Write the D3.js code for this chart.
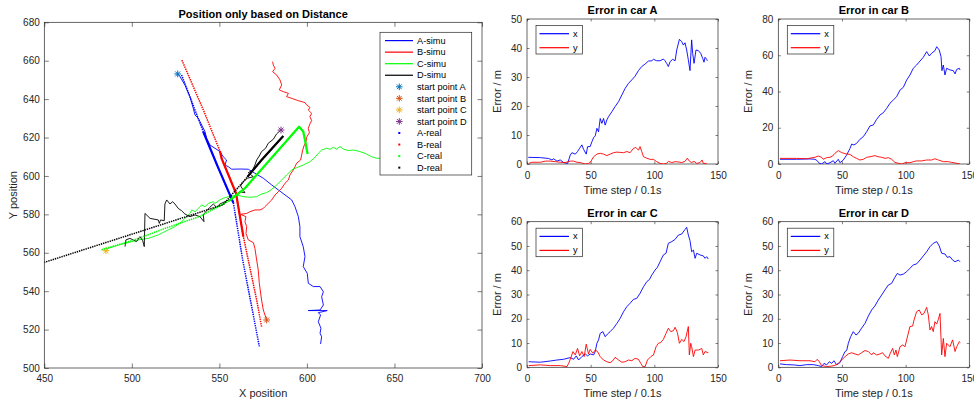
<!DOCTYPE html>
<html>
<head>
<meta charset="utf-8">
<script src="https://cdn.jsdelivr.net/npm/d3@7"></script>
<style>
  body { margin: 0; background: #fff; }
  svg { display: block; }
</style>
</head>
<body>
<svg id="chart" width="974" height="400"></svg>
<script>
// ---------- Trajectories (X position, Y position) ----------
const simuA = [[526.0,653.4],[527.5,651.7],[530.3,647.4],[533.2,641.3],[535.1,635.2],[536.1,631.7],[538.0,630.0],[539.9,626.5],[541.8,623.1],[542.7,619.6],[544.6,616.1],[547.5,614.4],[550.3,612.7],[552.2,610.0],[554.1,608.3],[553.2,605.7],[555.1,604.8],[557.0,603.5],[561.8,603.6],[566.5,603.5],[570.3,601.4],[575.1,598.8],[579.9,595.3],[583.7,592.7],[587.5,590.1],[591.3,587.5],[593.2,584.0],[595.1,578.8],[596.0,573.6],[596.0,568.4],[597.9,563.2],[598.9,558.0],[597.9,552.8],[600.2,549.3],[600.8,544.1],[603.7,542.4],[607.5,542.4],[609.4,539.7],[608.4,537.1],[609.4,532.8],[607.5,530.2],[600.8,529.9],[611.6,529.9],[606.5,528.8],[607.8,527.6],[606.5,524.1],[608.0,520.7],[607.5,518.1],[608.4,516.3],[607.8,512.5]];
const simuB = [[577.0,525.0],[575.1,530.2],[574.1,535.4],[572.8,544.1],[572.2,551.0],[571.3,556.2],[570.3,562.3],[569.4,565.3],[566.5,566.7],[565.2,570.1],[565.6,573.6],[564.6,576.2],[565.2,578.8],[562.1,580.0],[565.6,580.5],[567.5,581.4],[570.3,582.3],[573.2,582.3],[575.1,583.1],[576.0,584.0],[577.9,585.7],[579.9,587.5],[581.8,590.1],[583.7,591.8],[585.6,593.6],[587.5,596.2],[589.4,597.9],[590.3,600.5],[592.2,603.1],[593.2,604.8],[594.1,606.6],[596.4,608.3],[597.0,610.9],[597.6,613.5],[598.3,615.6],[599.5,617.9],[599.8,620.1],[601.4,622.5],[600.8,624.8],[601.7,627.1],[602.7,628.8],[601.7,630.9],[602.7,632.6],[600.8,634.3],[601.7,635.7],[599.8,637.0],[598.9,638.2],[595.1,639.2],[591.3,640.4],[588.4,641.3],[589.4,643.0],[586.5,643.9],[584.2,644.8],[585.6,647.4],[584.6,650.0],[582.7,652.6],[580.4,654.3],[581.8,656.0],[580.8,657.8],[580.4,659.5]];
const simuC = [[485.6,561.4],[486.6,562.3],[492.3,564.0],[498.0,565.3],[503.7,566.7],[509.4,567.5],[515.1,569.3],[520.8,571.9],[524.6,573.6],[528.4,576.2],[531.3,578.8],[533.2,580.5],[534.2,582.3],[536.1,581.4],[538.0,583.1],[539.9,584.9],[541.8,584.0],[543.7,585.7],[546.5,586.6],[547.5,585.7],[550.3,587.5],[552.2,588.4],[555.1,589.2],[558.0,589.6],[559.9,590.1],[563.7,589.2],[567.5,588.9],[571.3,589.2],[574.1,590.6],[577.0,591.3],[579.9,593.0],[582.7,595.3],[585.6,597.9],[588.4,600.5],[591.3,603.1],[594.1,604.3],[597.9,605.7],[601.7,607.4],[604.6,609.7],[606.5,611.8],[608.4,613.5],[611.3,614.4],[613.2,613.9],[615.1,614.9],[617.0,614.0],[618.9,615.3],[620.8,614.0],[623.6,613.2],[626.5,613.5],[630.3,612.7],[634.1,611.4],[637.0,610.0],[639.8,609.2],[641.7,609.2],[645.5,606.0]];
const simuD = [[585.0,623.9],[582.7,621.9],[580.8,619.1],[577.9,617.0],[576.4,614.4],[574.1,612.7],[572.8,610.4],[571.3,608.3],[570.3,605.7],[569.0,603.1],[566.5,601.7],[569.4,599.6],[566.0,598.8],[563.7,597.0],[562.1,594.8],[564.6,591.3],[561.4,591.8],[558.9,589.6],[556.1,587.8],[553.2,586.6],[550.3,585.4],[548.4,583.7],[546.5,585.4],[544.6,583.7],[542.7,581.9],[540.8,579.7],[541.2,576.2],[538.9,578.8],[536.1,579.7],[533.2,578.8],[530.3,580.2],[528.4,581.9],[526.5,583.1],[524.6,585.4],[523.3,586.6],[521.8,585.4],[519.9,587.5],[518.9,585.4],[518.5,576.7],[516.4,577.1],[515.7,575.3],[515.1,577.1],[510.4,577.9],[507.5,580.5],[507.1,563.2],[506.2,566.3],[504.6,568.4],[502.7,565.8],[498.9,567.5],[496.6,566.7],[496.1,563.2]];

// real tracks: full path, plus the stretch where samples bunch up (slow driving)
const realA = [[528.4,652.6],[540.8,623.0],[549.0,605.0],[558.0,586.0],[563.3,556.3],[572.8,511.3]];
const realASlow = [[540.8,623.0],[549.0,605.0],[558.0,586.0]];
const realB = [[574.1,521.5],[571.3,535.4],[563.7,568.4],[559.5,591.0],[551.3,609.0],[550.3,613.0],[541.0,634.0],[528.4,660.7]];
const realBSlow = [[563.7,568.4],[559.5,591.0],[551.3,609.0],[550.3,613.0]];
const realC = [[482.7,561.6],[500.8,566.5],[519.9,573.0],[538.9,579.0],[555.5,587.0],[564.6,593.6],[595.5,625.6],[597.9,623.1],[598.9,618.7],[600.4,611.4]];
const realCSlow = [[555.5,587.0],[564.6,593.6],[595.5,625.6],[597.9,623.1],[598.9,618.7],[600.4,611.4]];
const realD = [[586.5,620.8],[574.1,608.3],[566.0,599.5],[556.1,589.2],[552.2,585.0],[450.0,555.0]];
const realDSlow = [[586.5,620.8],[574.1,608.3],[566.0,599.5]];

const startA = [526.2,653.1];
const startB = [577.0,525.0];
const startC = [485.2,561.1];
const startD = [585.2,623.9];

const posTicksX = [450,500,550,600,650,700];
const posTicksY = [500,520,540,560,580,600,620,640,660,680];

// ---------- Position error per car: [time step, error in m] ----------
const errAx = [[1,2.3],[10.5,2.2],[17,1.9],[19.6,1.4],[20.9,1.8],[23.5,1.0],[26.1,1.4],[28.7,0.5],[31.9,0.2],[34,3.1],[35.3,3.9],[37.9,3.4],[39.7,4.3],[41.3,5.4],[43.1,6.6],[44.4,5.1],[46.5,3.4],[47.6,6.0],[49.6,6.0],[51,7.7],[52.3,9.1],[53.6,9.7],[54.9,12.3],[56.2,11.1],[57.5,15.7],[58.8,14.0],[60.1,15.7],[61.4,13.4],[62.7,15.2],[64,16.3],[66.6,18.0],[69.2,19.8],[71.9,21.5],[74.5,23.8],[77.1,26.1],[79.7,27.8],[82.3,29.0],[84.9,30.3],[87.5,32.2],[90.1,33.6],[92.8,34.5],[95.4,35.5],[98,35.6],[99.3,36.1],[101.9,35.6],[104.5,35.6],[107.1,36.2],[108.4,35.6],[109.7,34.7],[111,33.6],[112.4,35.3],[114.4,36.1],[116.3,35.6],[117.6,39.3],[119.7,43.0],[121.5,42.2],[122.8,41.0],[124.1,41.8],[125.4,39.3],[126.7,35.9],[128,32.2],[129.3,42.8],[130.1,38.2],[131.2,34.7],[132.7,39.3],[134.6,39.1],[136.4,38.2],[138,36.4],[139,35.1],[139.8,36.8],[141.1,36.1],[141.6,35.6]];
const errAy = [[1.3,0.2],[3.9,0.6],[10.5,0.6],[14.4,1.0],[18.3,1.0],[22.2,0.8],[26.1,0.6],[30,0.5],[34,1.0],[36.6,1.0],[39.2,0.6],[41.8,0.5],[45.7,0],[48.3,0.2],[49.6,0.5],[52.3,2.5],[54.9,3.4],[57.5,3.7],[60.1,3.4],[62.7,2.9],[65.3,3.4],[67.9,3.9],[70.5,4.1],[73.2,4.0],[75.8,3.9],[78.4,4.3],[81,3.9],[83.6,5.4],[85.4,5.7],[87.5,4.8],[88.8,6.0],[90.1,4.3],[91.5,2.5],[94.1,2.0],[96.7,1.6],[99.3,1.6],[101.9,0.8],[104.5,0.2],[107.1,0],[109.7,0.2],[111,0.9],[113.7,0.5],[116.3,0.8],[118.9,0.7],[121.5,0.5],[124.1,0.9],[125.9,2.0],[127.5,1.0],[129.3,0.5],[131.2,0.9],[133.3,0.2],[135.9,0.5],[137.5,1.4],[138.5,0.2],[141.1,0.2]];
const errBx = [[1.3,2.6],[14.4,2.6],[24.9,2.8],[28.8,2.6],[30.6,1.8],[32.2,0.4],[34,0],[36.7,1.3],[38,0],[40.6,0.7],[43.2,1.8],[44.5,0.4],[47.1,2.6],[48.4,0.7],[51.1,2.2],[53.7,5.0],[56.3,8.6],[57.6,11.0],[59.4,10.5],[61.5,11.4],[64.1,13.6],[66.8,15.1],[69.4,17.8],[72,21.0],[74.6,21.5],[77.2,24.6],[79.8,27.0],[82.5,28.3],[85.1,30.7],[87.7,33.5],[90.3,35.3],[92.9,37.1],[95.6,40.8],[98.2,42.3],[100.8,46.3],[103.4,49.1],[106,52.8],[108.6,54.6],[111.3,56.8],[113.9,58.9],[116.5,62.0],[118.6,59.6],[120.4,61.1],[123,62.5],[124.4,64.7],[126.4,62.9],[127.8,59.2],[128.5,51.5],[129.6,54.6],[130.9,49.1],[132.2,52.8],[134.8,51.9],[137.4,51.5],[138.8,49.7],[140.1,52.2],[142.2,52.8],[142.7,51.9]];
const errBy = [[1.3,3.1],[14.4,3.1],[22.3,2.9],[28.8,3.7],[31.4,4.4],[34,3.7],[35.3,2.6],[38,3.5],[40.6,3.7],[42.7,4.4],[44.5,5.9],[47.1,7.4],[49.7,6.3],[51.6,5.9],[53.7,5.5],[56.3,5.3],[58.9,4.0],[61.5,3.1],[64.1,2.2],[66.8,2.6],[69.4,3.7],[72,4.0],[75.9,4.6],[78.5,4.0],[81.2,3.7],[83.8,3.1],[86.4,3.5],[89,2.6],[91.6,0.9],[94.2,0.4],[96.9,0],[99.5,0.7],[103.4,0.7],[106,1.3],[108.6,1.7],[112.6,1.7],[116.5,2.2],[120.4,2.2],[123,2.9],[125.7,2.2],[129.6,1.3],[133.5,1.3],[136.1,0.9],[140.1,0.4],[142.7,0]];
const errCx = [[1.3,2.3],[10.5,2.1],[18.3,2.6],[23.5,3.0],[28.7,3.3],[34,4.0],[36.6,3.3],[38.7,4.7],[40.5,3.0],[43.1,4.4],[45.7,5.5],[47.6,4.7],[49.6,5.5],[52.3,5.1],[53.6,6.5],[54.9,9.9],[56.2,11.3],[57.5,14.0],[59.6,14.7],[61.4,12.6],[63.2,13.7],[65.3,14.7],[67.9,16.1],[70.6,18.1],[73.2,20.2],[75.8,22.9],[78.4,25.0],[81,26.4],[83.6,28.0],[86.2,28.4],[88.8,30.5],[91.5,33.2],[94.1,35.3],[96.2,36.2],[98,38.0],[100.6,40.1],[102.4,41.2],[104.5,43.5],[107.1,46.3],[109.2,47.0],[111,51.1],[113.7,51.8],[116.3,52.7],[118.9,54.5],[121.5,54.9],[124.1,56.8],[125.4,57.7],[126.7,54.5],[128,52.2],[129.3,47.6],[130.7,48.3],[132,44.9],[133.3,47.0],[135.9,46.3],[138.5,45.9],[139.8,44.9],[141.1,45.6],[142.4,44.6]];
const errCy = [[1.3,0.7],[10.5,1.0],[18.3,0.7],[26.1,0.7],[31.4,0.3],[32.7,1.6],[34,3.3],[36.1,6.5],[37.9,5.1],[39.7,7.8],[41.3,4.7],[43.1,6.5],[44.9,4.4],[46.5,9.5],[48.3,5.5],[49.6,7.4],[51.7,5.8],[53.6,7.1],[55.4,6.5],[57.5,4.4],[60.1,3.0],[62.7,2.3],[65.3,1.9],[67.4,2.7],[69.2,4.1],[71.9,3.0],[74.5,2.1],[77.1,2.3],[79.7,3.0],[82.3,2.7],[84.9,3.7],[87.5,3.3],[89.4,1.6],[90.9,0.3],[92.8,0.3],[94.6,3.0],[97.2,4.4],[99.3,5.1],[101.4,8.5],[103.2,9.9],[105,10.2],[107.1,11.5],[109.2,14.0],[111,16.1],[112.9,14.7],[115,15.1],[116.3,16.5],[118.1,14.3],[119.7,9.9],[121.5,11.5],[123.3,10.6],[124.9,12.6],[126.7,16.8],[127.5,5.1],[128.6,9.9],[129.3,8.5],[130.7,4.4],[132,7.1],[134.6,7.1],[135.9,7.4],[137.2,7.8],[138.5,5.1],[139.8,6.5],[142.4,6.0]];
const errDx = [[1.3,1.4],[6.5,1.1],[11.8,1.0],[17,0.7],[22.3,1.1],[27.5,1.1],[31.4,0.7],[34,0.3],[35.9,1.6],[38,1.0],[40.1,2.3],[41.9,1.6],[43.7,2.7],[45.8,1.0],[48.4,1.9],[50.5,4.4],[52.4,6.5],[53.7,6.9],[55,9.9],[56.8,12.6],[58.9,14.7],[61,13.3],[62.8,14.0],[65.4,16.1],[68.1,18.1],[70.7,21.1],[73.3,23.6],[75.9,25.3],[78.5,27.7],[81.2,29.8],[83.8,31.9],[86.4,33.9],[89,34.6],[91.6,37.1],[93.5,38.7],[95.6,38.0],[98.2,38.4],[100.8,39.4],[103.4,40.8],[106,42.2],[108.6,42.6],[111.3,44.2],[113.9,45.9],[116.5,47.6],[119.1,49.7],[121.7,51.1],[124.4,51.8],[126.4,50.0],[128.3,47.0],[130.9,46.7],[132.7,45.3],[134.8,45.6],[136.9,44.2],[138.8,43.5],[141.4,44.2],[142.7,43.5]];
const errDy = [[1.3,2.7],[9.2,3.0],[17,2.7],[24.9,2.7],[28.8,2.3],[30.6,3.3],[32.2,2.3],[34,0.7],[38,0.3],[41.9,0.5],[44.5,0.8],[47.1,1.6],[49.7,3.0],[52.4,4.4],[55,5.5],[57.6,6.0],[60.2,5.5],[62.8,5.1],[65.4,6.0],[68.1,6.9],[70.7,6.5],[73.3,5.1],[74.6,6.0],[77.2,5.1],[79.8,5.5],[81.9,6.0],[83.8,4.7],[86.4,3.7],[87.7,5.5],[89.8,7.8],[91.1,5.1],[92.4,7.1],[93.5,4.4],[95.6,8.5],[97.7,9.2],[99.5,8.5],[100.8,11.3],[103.4,16.8],[105.5,17.0],[106.6,19.5],[108.6,22.9],[110.7,23.6],[112.6,21.6],[114.4,22.2],[116.5,24.7],[117.8,21.6],[119.1,15.4],[120.4,16.8],[121.7,14.7],[123,18.8],[124.4,17.8],[125.7,19.8],[127,22.2],[128.3,5.1],[129.6,11.9],[130.9,4.4],[132.2,9.9],[134.8,8.5],[136.9,11.3],[138.8,6.5],[140.1,8.5],[142.2,10.6],[142.7,10.2]];

const errTicksX = [0,50,100,150];
const errTicksYA = [0,10,20,30,40,50];
const errTicksYB = [0,20,40,60,80];
const errTicksYC = [0,10,20,30,40,50,60];
const errTicksYD = [0,10,20,30,40,50,60];

// ---------- drawing ----------
const FONT = "'Liberation Sans', Arial, Helvetica, sans-serif";
const INK = "#262626";
const BLUE = "#0000ff", RED = "#ff0000", GREEN = "#00ff00", BLACK = "#000000";
const svg = d3.select("#chart");
const defs = svg.append("defs");
let clipCount = 0;

function styleAxis(sel) {
  sel.select(".domain").remove();
  sel.selectAll(".tick line").style("stroke", INK).style("stroke-width", 0.6);
  sel.selectAll(".tick text").style("fill", INK).style("font-size", "10px").style("font-family", FONT);
}

function panel(c) {
  const x = d3.scaleLinear().domain(c.xDomain).range([c.left, c.right]);
  const y = d3.scaleLinear().domain(c.yDomain).range([c.bottom, c.top]);
  const g = svg.append("g");
  const id = "clip" + (clipCount++);
  defs.append("clipPath").attr("id", id).append("rect")
    .attr("x", c.left).attr("y", c.top)
    .attr("width", c.right - c.left).attr("height", c.bottom - c.top);

  const fmt = d3.format("d");
  g.append("g").attr("transform", `translate(0,${c.bottom})`)
    .call(d3.axisBottom(x).tickValues(c.xTicks).tickSize(-c.tick).tickPadding(c.xPad).tickFormat(fmt)).call(styleAxis);
  g.append("g").attr("transform", `translate(0,${c.top})`)
    .call(d3.axisTop(x).tickValues(c.xTicks).tickSize(-c.tick).tickFormat("")).call(styleAxis);
  g.append("g").attr("transform", `translate(${c.left},0)`)
    .call(d3.axisLeft(y).tickValues(c.yTicks).tickSize(-c.tick).tickPadding(c.yPad).tickFormat(fmt)).call(styleAxis);
  g.append("g").attr("transform", `translate(${c.right},0)`)
    .call(d3.axisRight(y).tickValues(c.yTicks).tickSize(-c.tick).tickFormat("")).call(styleAxis);

  g.append("rect").attr("x", c.left).attr("y", c.top)
    .attr("width", c.right - c.left).attr("height", c.bottom - c.top)
    .style("fill", "none").style("stroke", INK).style("stroke-width", 0.7);

  g.append("text").attr("x", (c.left + c.right) / 2).attr("y", c.titleY)
    .attr("text-anchor", "middle").style("font-family", FONT).style("font-size", "11px")
    .style("font-weight", "bold").style("fill", "#000").text(c.title);
  g.append("text").attr("x", (c.left + c.right) / 2).attr("y", c.bottom + c.xLabelOff)
    .attr("text-anchor", "middle").style("font-family", FONT).style("font-size", "11px")
    .style("fill", INK).text(c.xLabel);
  g.append("text")
    .attr("transform", `translate(${c.left - c.yLabelOff},${(c.top + c.bottom) / 2}) rotate(-90)`)
    .attr("text-anchor", "middle").style("font-family", FONT).style("font-size", "11px")
    .style("fill", INK).text(c.yLabel);

  const plot = g.append("g").attr("clip-path", `url(#${id})`);
  return { x, y, g, plot };
}

// ----- main trajectory panel -----
const P = panel({
  left: 44.3, right: 482, top: 22.3, bottom: 368,
  xDomain: [450, 700], yDomain: [500, 680],
  xTicks: posTicksX, yTicks: posTicksY, tick: 4.5, xPad: 6.5, yPad: 4.5,
  title: "Position only based on Distance", titleY: 18,
  xLabel: "X position", xLabelOff: 29, yLabel: "Y position", yLabelOff: 27
});
const posLine = d3.line().x(d => P.x(d[0])).y(d => P.y(d[1]));

[[simuA, BLUE], [simuB, RED], [simuC, GREEN], [simuD, BLACK]].forEach(([d, col]) => {
  P.plot.append("path").attr("d", posLine(d)).style("fill", "none")
    .style("stroke", col).style("stroke-width", 0.9).style("stroke-linejoin", "round");
});

function starPath(cx, cy, r) {
  const k = r * 0.72;
  return `M${cx - r},${cy}L${cx + r},${cy}M${cx},${cy - r}L${cx},${cy + r}` +
         `M${cx - k},${cy - k}L${cx + k},${cy + k}M${cx - k},${cy + k}L${cx + k},${cy - k}`;
}
const starCols = ["#0072bd", "#d95319", "#edb120", "#7e2f8e"];
[startA, startB, startC, startD].forEach((p, i) => {
  P.plot.append("path").attr("d", starPath(P.x(p[0]), P.y(p[1]), 3.4))
    .style("stroke", starCols[i]).style("stroke-width", 1).style("fill", "none");
});

[[realA, realASlow, BLUE], [realB, realBSlow, RED],
 [realC, realCSlow, GREEN], [realD, realDSlow, BLACK]].forEach(([full, slow, col]) => {
  P.plot.append("path").attr("d", posLine(full)).style("fill", "none")
    .style("stroke", col).style("stroke-width", 1.5).style("stroke-dasharray", "1.4 0.9");
  P.plot.append("path").attr("d", posLine(slow)).style("fill", "none")
    .style("stroke", col).style("stroke-width", 2.2).style("stroke-linejoin", "round");
});

// legend of main panel
const leg = svg.append("g");
leg.append("rect").attr("x", 380).attr("y", 32.3).attr("width", 91.7).attr("height", 142.7)
  .style("fill", "#fff").style("stroke", INK).style("stroke-width", 0.7);
const legItems = [
  ["A-simu", "line", BLUE], ["B-simu", "line", RED], ["C-simu", "line", GREEN], ["D-simu", "line", BLACK],
  ["start point A", "star", starCols[0]], ["start point B", "star", starCols[1]],
  ["start point C", "star", starCols[2]], ["start point D", "star", starCols[3]],
  ["A-real", "dot", BLUE], ["B-real", "dot", RED], ["C-real", "dot", GREEN], ["D-real", "dot", BLACK]
];
legItems.forEach(([label, kind, col], i) => {
  const yy = 40.6 + i * 11.55;
  if (kind === "line") {
    leg.append("rect").attr("x", 385).attr("y", yy - 0.6).attr("width", 28).attr("height", 1.2).style("fill", col);
  } else if (kind === "star") {
    leg.append("path").attr("d", starPath(399.3, yy, 3.3)).style("stroke", col)
      .style("stroke-width", 1).style("fill", "none");
  } else {
    leg.append("rect").attr("x", 398.3).attr("y", yy - 1).attr("width", 2).attr("height", 2).style("fill", col);
  }
  leg.append("text").attr("x", 417).attr("y", yy).attr("dy", "0.35em")
    .style("font-family", FONT).style("font-size", "9.2px").style("fill", "#000").text(label);
});

// ----- error panels -----
const errPanels = [
  { name: "A", xs: errAx, ys: errAy, ticks: errTicksYA, left: 527, top: 19, bottom: 164, titleY: 14 },
  { name: "B", xs: errBx, ys: errBy, ticks: errTicksYB, left: 778.3, top: 19, bottom: 164, titleY: 14 },
  { name: "C", xs: errCx, ys: errCy, ticks: errTicksYC, left: 527, top: 221.7, bottom: 367.3, titleY: 217 },
  { name: "D", xs: errDx, ys: errDy, ticks: errTicksYD, left: 778.3, top: 221.7, bottom: 367.3, titleY: 217 }
];
const errLegends = [];
errPanels.forEach(e => {
  const right = e.left + 191;
  const Q = panel({
    left: e.left, right: right, top: e.top, bottom: e.bottom,
    xDomain: [0, 150], yDomain: [0, e.ticks[e.ticks.length - 1]],
    xTicks: errTicksX, yTicks: e.ticks, tick: 2.5, xPad: 7.5, yPad: 5,
    title: "Error in car " + e.name, titleY: e.titleY,
    xLabel: "Time step / 0.1s", xLabelOff: 30, yLabel: "Error / m", yLabelOff: 26
  });
  const ln = d3.line().x(d => Q.x(d[0])).y(d => Q.y(d[1]));
  Q.plot.append("path").attr("d", ln(e.xs)).style("fill", "none").style("stroke", BLUE).style("stroke-width", 0.9);
  Q.plot.append("path").attr("d", ln(e.ys)).style("fill", "none").style("stroke", RED).style("stroke-width", 0.9);
  errLegends.push({ bx: e.left + 9, by: e.top + 6.5 });
});

// small legends, drawn last so they sit above every panel
const smallLeg = svg.append("g");
errLegends.forEach(({ bx, by }) => {
  smallLeg.append("rect").attr("x", bx).attr("y", by).attr("width", 46.5).attr("height", 28.5)
    .style("fill", "#fff").style("stroke", INK).style("stroke-width", 0.7);
  [["x", BLUE], ["y", RED]].forEach(([lab, col], i) => {
    const yy = by + 8.2 + i * 14;
    smallLeg.append("rect").attr("x", bx + 3.5).attr("y", yy - 0.6).attr("width", 29.5).attr("height", 1.2)
      .style("fill", col);
    smallLeg.append("text").attr("x", bx + 37).attr("y", yy).attr("dy", "0.32em")
      .style("font-family", FONT).style("font-size", "9.2px").style("fill", "#000").text(lab);
  });
});
</script>
</body>
</html>
